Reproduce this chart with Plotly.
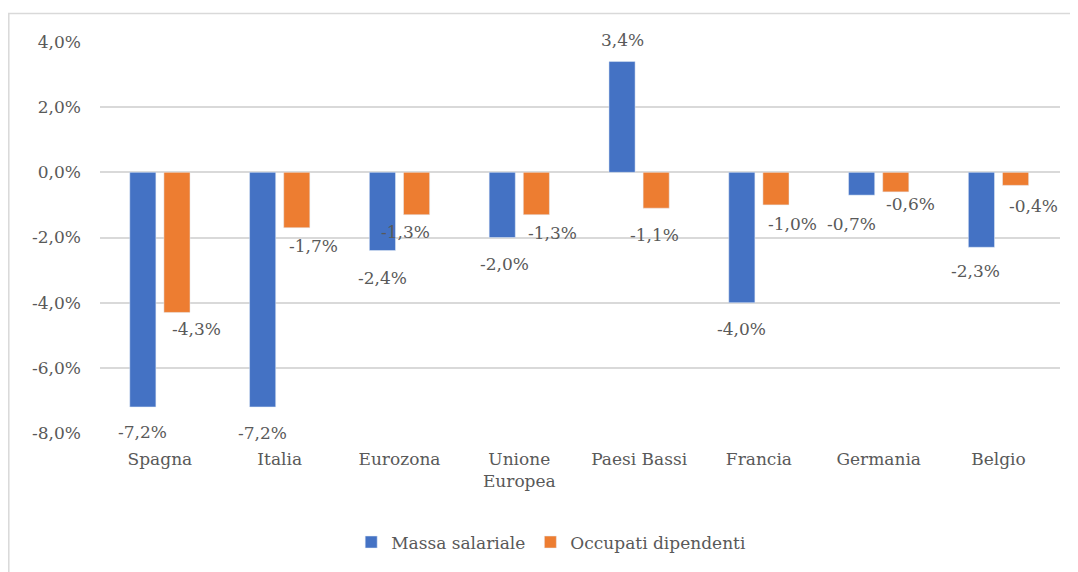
import plotly.graph_objects as go

# variazione % per paese
paesi = ["Spagna", "Italia", "Eurozona", "Unione<br>Europea", "Paesi Bassi",
         "Francia", "Germania", "Belgio"]
massa_salariale = [-7.2, -7.2, -2.4, -2.0, 3.4, -4.0, -0.7, -2.3]
occupati_dipendenti = [-4.3, -1.7, -1.3, -1.3, -1.1, -1.0, -0.6, -0.4]
tick_vals = [-8, -6, -4, -2, 0, 2, 4]

# posizione delle etichette (px): spostamento orizzontale e distanza dalla barra
nudge_massa = [0, 0, 0, 2, 0, 0, -10, -6]
nudge_occupati = [20, 17, -11, 16, -2, 17, 15, 18]
gap_massa = [25, 26, 27, 26, 22, 26, 29, 24]
gap_occupati = [17, 18, 17, 18, 27, 19, 12, 21]

font_name = "DejaVu Serif"
grey = "#595959"
fsize = 17


def fmt(v):
    return f"{v:.1f}%".replace(".", ",")


fig = go.Figure()
fig.add_trace(go.Bar(x=paesi, y=massa_salariale, name="Massa salariale",
                     marker_color="#4472C4", offsetgroup="a"))
fig.add_trace(go.Bar(x=paesi, y=occupati_dipendenti, name="Occupati dipendenti",
                     marker_color="#ED7D31", offsetgroup="b"))

# etichette dei valori
for vals, nudges, gaps, base in [(massa_salariale, nudge_massa, gap_massa, -17),
                                 (occupati_dipendenti, nudge_occupati, gap_occupati, 17)]:
    for p, v, n, g in zip(paesi, vals, nudges, gaps):
        fig.add_annotation(x=p, y=v, text=fmt(v), showarrow=False,
                           xshift=base + n, yshift=-g if v < 0 else g,
                           yanchor="middle",
                           font=dict(family=font_name, size=fsize, color=grey))

fig.update_layout(
    width=1070, height=564,
    margin=dict(l=92, r=18, t=34, b=135),
    barmode="group", bargap=0.43, bargroupgap=0.235,
    paper_bgcolor="white", plot_bgcolor="white",
    font=dict(family=font_name, size=fsize, color=grey),
    showlegend=True,
    legend=dict(orientation="h", x=0.47, xanchor="center", y=-0.28,
                yanchor="middle", font=dict(family=font_name, size=fsize)),
    yaxis=dict(range=[-8, 4], tickvals=tick_vals,
               ticktext=[fmt(t) for t in tick_vals],
               showgrid=True, gridcolor="#d9d9d9",
               gridwidth=1.5, zeroline=True, zerolinecolor="#d9d9d9",
               zerolinewidth=1.5, ticklabelstandoff=18, automargin=False,
               tickfont=dict(family=font_name, size=fsize)),
    xaxis=dict(showline=False, ticks="", automargin=False,
               ticklabelstandoff=14,
               tickfont=dict(family=font_name, size=fsize)),
    shapes=[dict(type="rect", xref="paper", yref="paper",
                 x0=-0.095, x1=1.0175, y0=-0.36, y1=1.073,
                 line=dict(color="#d9d9d9", width=1.5))],
)

fig.write_html("out.html")
